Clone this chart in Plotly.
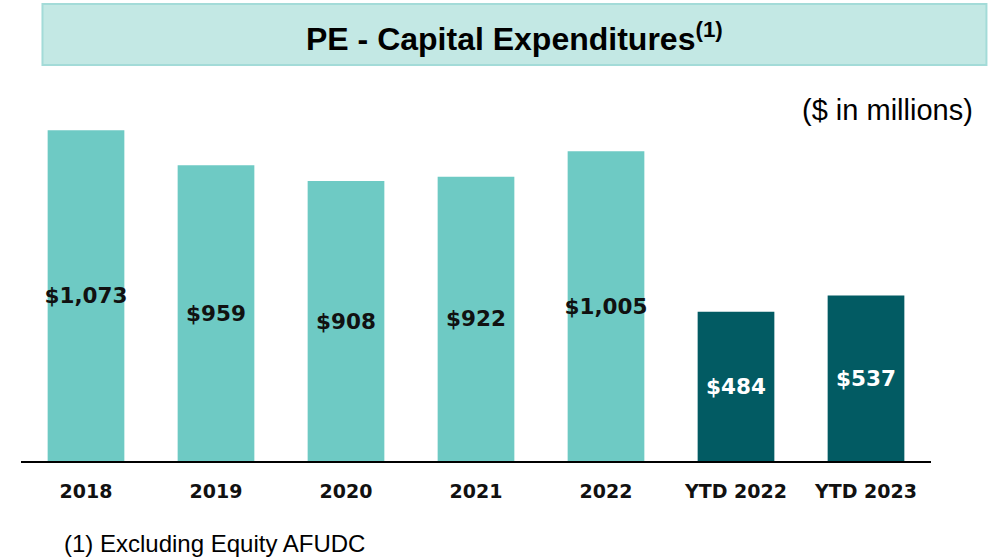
import plotly.graph_objects as go

categories = ["2018", "2019", "2020", "2021", "2022", "YTD 2022", "YTD 2023"]
values = [1073, 959, 908, 922, 1005, 484, 537]
labels = ["$1,073", "$959", "$908", "$922", "$1,005", "$484", "$537"]

LIGHT = "#6ecac4"
DARK = "#025b63"
bar_colors = [LIGHT] * 5 + [DARK] * 2
text_colors = ["#111111"] * 5 + ["#ffffff"] * 2

fig = go.Figure()
fig.add_trace(go.Bar(
    x=categories, y=values, text=labels,
    marker=dict(color=bar_colors, line=dict(width=0)),
    textposition="inside", insidetextanchor="middle", constraintext="none",
    textangle=0,
    insidetextfont=dict(family="DejaVu Sans", size=21.5, color=text_colors, weight="bold"),
    hoverinfo="skip",
))

W, H = 989, 558
L, R, T, B = 20.5, W - 20.5 - 911, 91, 97

fig.update_layout(
    width=W, height=H,
    margin=dict(l=L, r=R, t=T, b=B, pad=0),
    paper_bgcolor="white", plot_bgcolor="white",
    bargap=0.41, showlegend=False,
    xaxis=dict(range=[-0.5, 6.5], showline=True, linecolor="black", linewidth=2,
               ticks="", showgrid=False, zeroline=False,
               tickfont=dict(family="DejaVu Sans", size=19, color="#111111", weight="bold"),
               ticklabelstandoff=12),
    yaxis=dict(range=[0, 1200], visible=False),
)

def px2x(px):
    return (px - L) / 911.0

def py2y(py):
    return (461 - py) / 370.0

fig.add_shape(type="rect", xref="paper", yref="paper",
              x0=px2x(42), x1=px2x(987), y0=py2y(65), y1=py2y(4),
              fillcolor="#c3e8e4", line=dict(color="#a3dbd8", width=2), layer="below")

fig.add_annotation(xref="paper", yref="paper", x=px2x(515), y=py2y(37),
                   text="<b>PE - Capital Expenditures<sup>(1)</sup></b>", showarrow=False,
                   xanchor="center", yanchor="middle",
                   font=dict(family="Liberation Sans, Arial", size=32, color="black"))

fig.add_annotation(xref="paper", yref="paper", x=px2x(976), y=py2y(110),
                   text="($ in millions)", showarrow=False,
                   xanchor="right", yanchor="middle",
                   font=dict(family="Liberation Sans, Arial", size=29, color="black"))

fig.add_annotation(xref="paper", yref="paper", x=px2x(62), y=py2y(543),
                   text="(1) Excluding Equity AFUDC", showarrow=False,
                   xanchor="left", yanchor="middle",
                   font=dict(family="Liberation Sans, Arial", size=24, color="black"))

fig.write_html("out.html", config={"displayModeBar": False},
               post_script="document.body.style.margin='0';document.body.style.overflow='hidden';")
